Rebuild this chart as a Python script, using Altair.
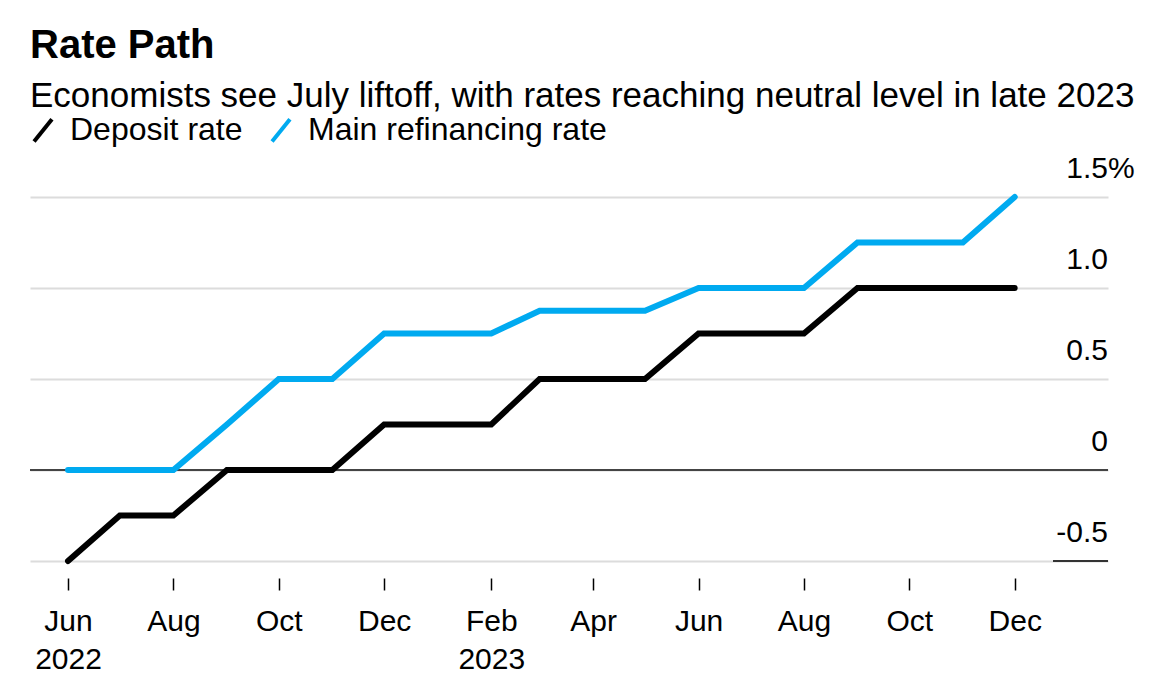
import altair as alt
import pandas as pd

months = ["2022-06-01", "2022-07-01", "2022-08-01", "2022-09-01", "2022-10-01",
          "2022-11-01", "2022-12-01", "2023-01-01", "2023-02-01", "2023-03-01",
          "2023-04-01", "2023-05-01", "2023-06-01", "2023-07-01", "2023-08-01",
          "2023-09-01", "2023-10-01", "2023-11-01", "2023-12-01"]
deposit = [-0.5, -0.25, -0.25, 0, 0, 0, 0.25, 0.25, 0.25, 0.5, 0.5, 0.5,
           0.75, 0.75, 0.75, 1.0, 1.0, 1.0, 1.0]
refi = [0, 0, 0, 0.25, 0.5, 0.5, 0.75, 0.75, 0.75, 0.875, 0.875, 0.875,
        1.0, 1.0, 1.0, 1.25, 1.25, 1.25, 1.5]
series_names = ["Deposit rate", "Main refinancing rate"]
series_colors = ["#000000", "#00aaf0"]

x_ticks = ["2022-06-01", "2022-08-01", "2022-10-01", "2022-12-01", "2023-02-01",
           "2023-04-01", "2023-06-01", "2023-08-01", "2023-10-01", "2023-12-01"]
year_ticks = ["2022-06", "2023-02"]
y_ticks = [-0.5, 0, 0.5, 1.0, 1.5]
y_labels = ["-0.5", "0", "0.5", "1.0", "1.5"]
y_suffix = ["", "", "", "", "%"]

FONT = "Liberation Sans"
W, H = 1078, 364

rows = []
for m, d, r in zip(months, deposit, refi):
    rows.append({"date": m, "series": series_names[0], "value": d})
    rows.append({"date": m, "series": series_names[1], "value": r})
df = pd.DataFrame(rows)

ylab = pd.DataFrame({"v": y_ticks, "label": y_labels, "suffix": y_suffix})

xdomain = [alt.DateTime(year=2022, month=5, date=10, utc=True),
           alt.DateTime(year=2024, month=1, date=24, utc=True)]
xscale = alt.Scale(type="utc", domain=xdomain)
yscale = alt.Scale(domain=[-0.5, 1.5], nice=False, zero=False)

cond = " || ".join(f"utcFormat(datum.value,'%Y-%m')=='{t}'" for t in year_ticks)
label_expr = (f"({cond}) ? [utcFormat(datum.value,'%b'), utcFormat(datum.value,'%Y')] : "
              "utcFormat(datum.value,'%b')")

lines = alt.Chart(df).mark_line(strokeWidth=6, strokeCap="round", strokeJoin="miter").encode(
    x=alt.X("date:T", scale=xscale, title=None,
            axis=alt.Axis(values=[alt.DateTime(year=int(t[:4]), month=int(t[5:7]), date=1, utc=True) for t in x_ticks],
                          labelExpr=label_expr, domain=False, grid=False,
                          tickSize=12, tickColor="#000", tickWidth=1.5, offset=17,
                          labelFontSize=30, labelFont=FONT, labelColor="#000",
                          labelPadding=16, labelLineHeight=38, labelBaseline="top")),
    y=alt.Y("value:Q", scale=yscale, title=None,
            axis=alt.Axis(values=y_ticks, labels=False, ticks=False, domain=False,
                          grid=True, gridColor="#dcdcdc", gridWidth=2)),
    color=alt.Color("series:N", scale=alt.Scale(domain=series_names, range=series_colors),
                    legend=alt.Legend(orient="none", legendX=-3, legendY=-83,
                                      direction="horizontal", title=None,
                                      symbolType="M-0.8,1L0.8,-1", symbolSize=500,
                                      symbolStrokeWidth=4, labelFontSize=32,
                                      labelFont=FONT, labelColor="#000", labelLimit=500,
                                      labelOffset=11, columnPadding=21)),
    order=alt.Order("date:T"),
)

zero = alt.Chart(pd.DataFrame({"v": [0]})).mark_rule(color="#444", strokeWidth=2).encode(
    y=alt.Y("v:Q", scale=yscale))
bottom_seg = alt.Chart(pd.DataFrame({"v": [-0.5]})).mark_rule(color="#333", strokeWidth=2).encode(
    y=alt.Y("v:Q", scale=yscale), x=alt.value(W - 55), x2=alt.value(W))

ytext = alt.Chart(ylab).mark_text(align="right", baseline="alphabetic", dy=-19,
                                  fontSize=30, font=FONT, color="#000").encode(
    y=alt.Y("v:Q", scale=yscale), x=alt.value(W), text="label:N")
ysuf = alt.Chart(ylab).mark_text(align="left", baseline="alphabetic", dy=-19,
                                 fontSize=30, font=FONT, color="#000").encode(
    y=alt.Y("v:Q", scale=yscale), x=alt.value(W), text="suffix:N")

chart = alt.layer(zero, bottom_seg, lines, ytext, ysuf).properties(
    width=W, height=H,
    title=alt.TitleParams(text="Rate Path",
                          subtitle="Economists see July liftoff, with rates reaching neutral level in late 2023",
                          anchor="start", frame="group", font=FONT, fontSize=40,
                          fontWeight="bold", color="#000", subtitleFont=FONT,
                          subtitleFontSize=35, subtitleColor="#000",
                          subtitlePadding=13, offset=0),
    autosize=alt.AutoSizeParams(type="none"),
    padding={"left": 22, "top": 189, "right": 30, "bottom": 118},
).configure_view(stroke=None)

chart.save("out.html", embed_options={"renderer": "svg", "actions": False})
